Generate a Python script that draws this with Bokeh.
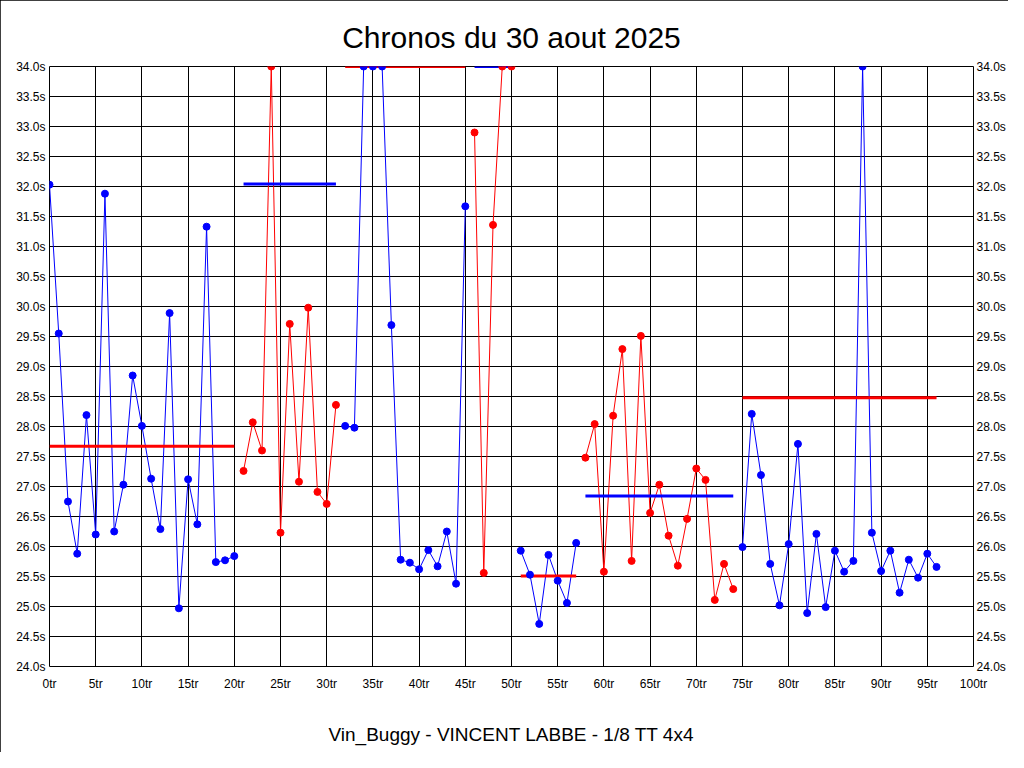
from bokeh.plotting import figure
from bokeh.models import Range1d, FixedTicker, PrintfTickFormatter, LinearAxis
from bokeh.embed import file_html
from bokeh.resources import INLINE

# ---- data (lap times in seconds, off-scale values shown at the 34.0s ceiling) ----
lap_times = [
    32.03, 29.55, 26.75, 25.88, 28.19, 26.20, 31.88, 26.25, 27.03, 28.85, 28.01,
    27.13, 26.29, 29.89, 24.97, 27.12, 26.37, 31.33, 25.74, 25.77, 25.84,
    27.26, 28.07, 27.60, 34.00, 26.23, 29.71, 27.08, 29.98, 26.91, 26.71, 28.36,
    28.01, 27.98, 34.00, 34.00, 34.00, 29.69, 25.78, 25.73, 25.62, 25.94, 25.67,
    26.25, 25.38, 31.67,
    32.90, 25.56, 31.36, 34.00, 34.00,
    25.93, 25.53, 24.71, 25.86, 25.43, 25.06, 26.06,
    27.48, 28.04, 25.58, 28.18, 29.29, 25.76, 29.51, 26.56, 27.03, 26.18, 25.68,
    26.46, 27.30, 27.11, 25.11, 25.71, 25.29,
    25.99, 28.21, 27.19, 25.71, 25.02, 26.04, 27.71, 24.89, 26.21, 24.99, 25.93,
    25.58, 25.76, 34.00, 26.23, 25.59, 25.93, 25.23, 25.78, 25.48, 25.88, 25.66,
]
segment_starts = [0, 21, 32, 46, 51, 58, 75]
segment_ends = [20, 31, 45, 50, 57, 74, 96]
segment_colors = ["#0000FF", "#FF0000", "#0000FF", "#FF0000", "#0000FF", "#FF0000", "#0000FF"]
mean_colors = ["#FF0000", "#0000FF", "#FF0000", "#0000FF", "#FF0000", "#0000FF", "#FF0000"]
segment_means = [27.67, 32.04, 34.00, 34.00, 25.51, 26.84, 28.48]

x_ticks = [0, 5, 10, 15, 20, 25, 30, 35, 40, 45, 50, 55, 60, 65, 70, 75, 80, 85, 90, 95, 100]
y_ticks = [24.0, 24.5, 25.0, 25.5, 26.0, 26.5, 27.0, 27.5, 28.0, 28.5, 29.0,
           29.5, 30.0, 30.5, 31.0, 31.5, 32.0, 32.5, 33.0, 33.5, 34.0]

title_text = "Chronos du 30 aout 2025"
caption_text = "Vin_Buggy - VINCENT LABBE - 1/8 TT 4x4"

FONT = "Liberation Sans"

p = figure(width=1008, height=752, x_range=Range1d(0, 100), y_range=Range1d(24, 34),
           output_backend="svg", toolbar_location=None,
           min_border_left=49, min_border_right=33, min_border_top=66, min_border_bottom=86,
           background_fill_color="white", border_fill_color="white")
p.styles = {"outline": "1px solid black", "outline-offset": "-1px"}

p.outline_line_color = "black"
p.outline_line_width = 1
p.outline_line_alpha = 1

p.title.text = title_text
p.title.align = "center"
p.title.text_font = FONT
p.title.text_font_size = "30px"
p.title.text_font_style = "normal"
p.title.text_color = "black"
p.title.standoff = 26

right_axis = LinearAxis()
p.add_layout(right_axis, "right")

for ax in p.xaxis:
    ax.ticker = FixedTicker(ticks=x_ticks)
    ax.formatter = PrintfTickFormatter(format="%dtr")
for ax in p.yaxis:
    ax.ticker = FixedTicker(ticks=y_ticks)
    ax.formatter = PrintfTickFormatter(format="%.1fs")

for ax in p.axis:
    ax.axis_line_color = None
    ax.major_tick_line_color = None
    ax.minor_tick_line_color = None
    ax.major_tick_in = 0
    ax.major_tick_out = 0
    ax.minor_tick_in = 0
    ax.minor_tick_out = 0
    ax.major_label_text_font = FONT
    ax.major_label_text_font_size = "12px"
    ax.major_label_text_color = "black"
for ax in p.xaxis:
    ax.major_label_standoff = 10
    ax.axis_label = caption_text
    ax.axis_label_text_font = FONT
    ax.axis_label_text_font_size = "19px"
    ax.axis_label_text_font_style = "normal"
    ax.axis_label_text_color = "black"
    ax.axis_label_standoff = 30
p.yaxis[0].major_label_standoff = 4
right_axis.major_label_standoff = 3

p.xgrid.ticker = FixedTicker(ticks=x_ticks)
p.ygrid.ticker = FixedTicker(ticks=y_ticks)
for g in (p.xgrid[0], p.ygrid[0]):
    g.grid_line_color = "black"
    g.grid_line_alpha = 1
    g.grid_line_width = 1

# lap lines
for s, e, c in zip(segment_starts, segment_ends, segment_colors):
    xs = list(range(s, e + 1))
    ys = lap_times[s:e + 1]
    p.line(xs, ys, line_color=c, line_width=1)

# segment mean lines
for s, e, m, c in zip(segment_starts, segment_ends, segment_means, mean_colors):
    p.line([s, e], [m, m], line_color=c, line_width=3)

# points
for s, e, c in zip(segment_starts, segment_ends, segment_colors):
    xs = list(range(s, e + 1))
    ys = lap_times[s:e + 1]
    p.scatter(xs, ys, size=7, fill_color=c, line_color=c)

open("out.html", "w").write(file_html(p, INLINE))
